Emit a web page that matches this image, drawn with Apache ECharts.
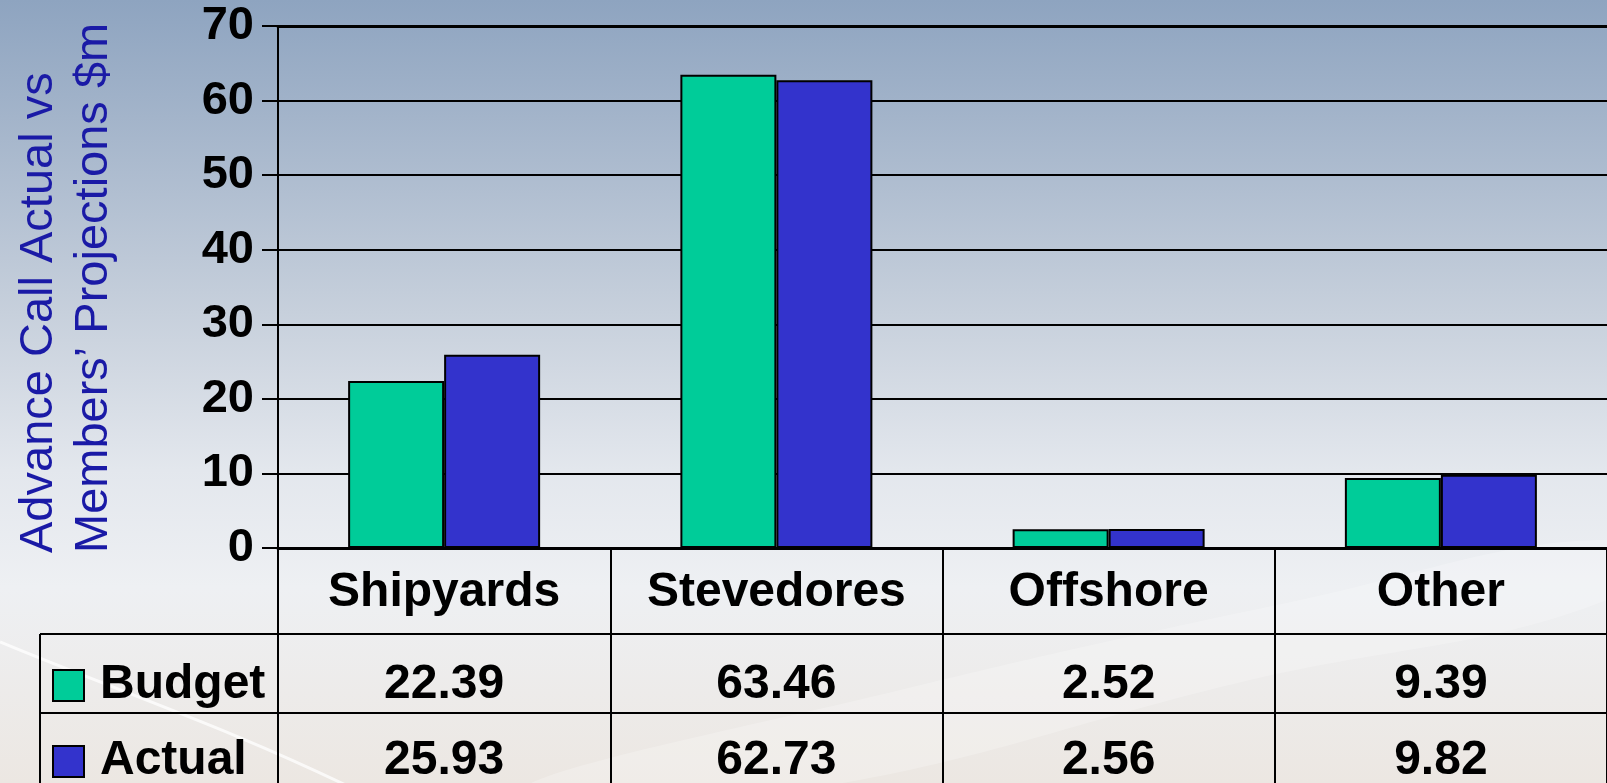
<!DOCTYPE html>
<html><head><meta charset="utf-8">
<script src="https://cdn.jsdelivr.net/npm/echarts/dist/echarts.min.js"></script>
<style>html,body{margin:0;padding:0;width:100%;height:100%;overflow:hidden;background:#dde3ea}#c{width:1607px;height:783px}</style>
</head><body><div id="c"></div>
<script>
const categories = ['Shipyards', 'Stevedores', 'Offshore', 'Other'];
const seriesNames = ['Budget', 'Actual'];
const budget = [22.39, 63.46, 2.52, 9.39];
const actual = [25.93, 62.73, 2.56, 9.82];
const yTicks = [0, 10, 20, 30, 40, 50, 60, 70];
const yTitle = ['Advance Call Actual vs', 'Members\u2019 Projections $m'];
const colors = ['#00CC99', '#3333CC'];

const FONT = '"Liberation Sans", Arial, Helvetica, sans-serif';
const chart = echarts.init(document.getElementById('c'), null, {renderer: 'canvas'});

chart.setOption({
  animation: false,
  backgroundColor: {
    type: 'linear', x: 0, y: 0, x2: 0, y2: 1,
    colorStops: [
      {offset: 0, color: '#8EA4C0'},
      {offset: 0.15, color: '#A3B4CA'},
      {offset: 0.4, color: '#C7D0DC'},
      {offset: 0.6, color: '#E3E7ED'},
      {offset: 0.75, color: '#EEF0F3'},
      {offset: 1, color: '#ECE7E2'}
    ]
  },
  textStyle: {fontFamily: FONT},
  grid: {left: 278, top: 26, width: 1334, bottom: 235, containLabel: false},
  xAxis: [{
    type: 'category',
    data: categories,
    position: 'bottom',
    axisLine: {show: true, lineStyle: {color: '#000', width: 3}},
    axisTick: {show: true, length: 240, interval: 0, lineStyle: {color: '#000', width: 2}},
    axisLabel: {
      interval: 0, margin: 45, verticalAlign: 'middle',
      color: '#000', fontSize: 48, fontWeight: 'bold', fontFamily: FONT
    },
    splitLine: {show: false}
  }, {
    type: 'category',
    data: categories,
    position: 'top',
    axisLine: {show: true, lineStyle: {color: '#000', width: 3}},
    axisTick: {show: false},
    axisLabel: {show: false}
  }],
  yAxis: {
    type: 'value',
    min: yTicks[0], max: yTicks[yTicks.length - 1], interval: 10,
    axisLine: {show: true, lineStyle: {color: '#000', width: 2}},
    axisTick: {show: true, length: 16, lineStyle: {color: '#000', width: 2}},
    axisLabel: {margin: 24, color: '#000', fontSize: 47, fontWeight: 'bold', fontFamily: FONT},
    splitLine: {show: true, lineStyle: {color: '#000', width: 2}}
  },
  series: [
    {name: seriesNames[0], type: 'bar', data: budget, barWidth: 96, barGap: '0%',
      itemStyle: {color: colors[0], borderColor: '#000', borderWidth: 2}},
    {name: seriesNames[1], type: 'bar', data: actual, barWidth: 96, barGap: '0%',
      itemStyle: {color: colors[1], borderColor: '#000', borderWidth: 2}}
  ]
});

// Build the data table and decorations from the library's own scales
const axisY = chart.convertToPixel({yAxisIndex: 0}, 0);
const rowTops = [axisY, axisY + 86, axisY + 165, axisY + 245];
const rowCenters = [axisY + 137, axisY + 213];
const tableLeft = 40;
const W = chart.getWidth(), H = chart.getHeight();
const rows = [budget, actual];
const g = [];

// background swooshes
g.push({type: 'bezierCurve', z: -10, silent: true,
  shape: {x1: 0, y1: 642, cpx1: 120, cpy1: 692, cpx2: 230, cpy2: 728, x2: 360, y2: 792},
  style: {stroke: 'rgba(255,255,255,0.75)', lineWidth: 3, fill: null}});
g.push({type: 'polygon', z: -11, silent: true,
  shape: {points: [[520, 790], [900, 690], [1300, 600], [1607, 540], [1607, 600], [1250, 680], [800, 790]], smooth: 0.4},
  style: {fill: 'rgba(255,255,255,0.22)'}});

// table lines
[rowTops[1], rowTops[2]].forEach(y => {
  g.push({type: 'line', z: 10, shape: {x1: tableLeft, y1: y, x2: W, y2: y},
    style: {stroke: '#000', lineWidth: 2}});
});
g.push({type: 'line', z: 10, shape: {x1: tableLeft, y1: rowTops[1], x2: tableLeft, y2: H},
  style: {stroke: '#000', lineWidth: 2}});

// legend keys + row names
seriesNames.forEach((name, r) => {
  const cy = rowCenters[r];
  g.push({type: 'rect', z: 10, shape: {x: 53, y: cy - 15, width: 31, height: 31},
    style: {fill: colors[r], stroke: '#000', lineWidth: 2}});
  g.push({type: 'text', z: 10, x: 100, y: cy,
    style: {text: name, font: 'bold 48px ' + FONT, fill: '#000', align: 'left', verticalAlign: 'middle'}});
  rows[r].forEach((v, i) => {
    const cx = chart.convertToPixel({xAxisIndex: 0}, i);
    g.push({type: 'text', z: 10, x: cx, y: cy,
      style: {text: v.toFixed(2), font: 'bold 48px ' + FONT, fill: '#000', align: 'center', verticalAlign: 'middle'}});
  });
});

// rotated y-axis title
g.push({type: 'text', z: 10, x: 67, y: 553, rotation: Math.PI / 2,
  style: {text: yTitle.join('\n'), font: '47px ' + FONT, lineHeight: 55, fill: '#1A1AA6',
    align: 'left', verticalAlign: 'middle'}});

chart.setOption({graphic: g});
</script>
</body></html>
